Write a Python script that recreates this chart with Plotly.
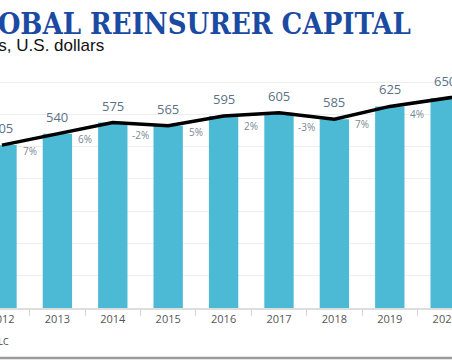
import plotly.graph_objects as go

years = [2012, 2013, 2014, 2015, 2016, 2017, 2018, 2019, 2020, 2021]
capital = [505, 540, 575, 565, 595, 605, 585, 625, 650, 675]
pct_change = ["7%", "6%", "-2%", "5%", "2%", "-3%", "7%", "4%", "4%"]
tick_labels = [str(y) for y in years]

W, H = 452, 360
T, B = 79, 52
PH = H - T - B


def py(p):
    return (H - B - p) / PH


def px(p):
    return p / W


fig = go.Figure()
fig.add_trace(go.Bar(x=years, y=capital, width=0.53,
                     marker=dict(color="#4cbad4", line=dict(width=0)),
                     hoverinfo="skip"))
fig.add_trace(go.Scatter(x=years, y=capital, mode="lines",
                         line=dict(color="#000000", width=3.5),
                         hoverinfo="skip", cliponaxis=False))

ann = []
for x, v in zip(years, capital):
    ann.append(dict(x=x, y=v, xref="x", yref="y", text=str(v), showarrow=False,
                    yshift=17, font=dict(family="Open Sans", size=13, color="#5b7286")))
for i, p in enumerate(pct_change):
    xm = (years[i] + years[i + 1]) / 2
    ym = (capital[i] + capital[i + 1]) / 2 - 35
    ann.append(dict(x=xm, y=ym, xref="x", yref="y", text=p, showarrow=False,
                    font=dict(family="Open Sans", size=10, color="#7a8794")))

ann.append(dict(x=px(413), y=py(24), xref="paper", yref="paper", xanchor="right", yanchor="middle",
                text="<b>GLOBAL REINSURER CAPITAL</b>", showarrow=False,
                font=dict(family="DejaVu Serif Condensed, DejaVu Serif", size=29, color="#1b4aa3")))
ann.append(dict(x=px(106), y=py(45), xref="paper", yref="paper", xanchor="right", yanchor="middle",
                text="In billions, U.S. dollars", showarrow=False,
                font=dict(family="Liberation Sans", size=17, color="#111111")))
ann.append(dict(x=px(11), y=py(341), xref="paper", yref="paper", xanchor="right", yanchor="middle",
                text="Source: Aon Securities LLC", showarrow=False,
                font=dict(family="Open Sans", size=9, color="#444444")))

fig.update_layout(
    width=W, height=H,
    margin=dict(l=0, r=0, t=T, b=B, autoexpand=False),
    paper_bgcolor="white", plot_bgcolor="white",
    showlegend=False,
    bargap=0.47,
    annotations=ann,
    shapes=[dict(type="line", xref="paper", yref="paper", x0=-0.05, x1=1.05,
                 y0=py(358), y1=py(358), line=dict(color="#9a9a9a", width=2.5))],
    xaxis=dict(range=[2011.964, 2020.123], tickvals=years, ticktext=tick_labels,
               automargin=False, ticklabeloverflow="allow",
               ticks="", showgrid=False, showline=True, linecolor="#dddddd", linewidth=2,
               tickfont=dict(family="Open Sans", size=11, color="#555555"),
               minor=dict(tick0=2011.5, dtick=1, ticks="outside", ticklen=6,
                          tickcolor="#d5d5d5", tickwidth=1, showgrid=False)),
    yaxis=dict(range=[0, 710], dtick=100, showticklabels=False, showgrid=True,
               automargin=False,
               gridcolor="#eeeeee", gridwidth=1, zeroline=False),
)

fig.write_html("out.html", config={"displayModeBar": False},
               post_script="document.body.style.margin='0';document.body.style.overflow='hidden';")
